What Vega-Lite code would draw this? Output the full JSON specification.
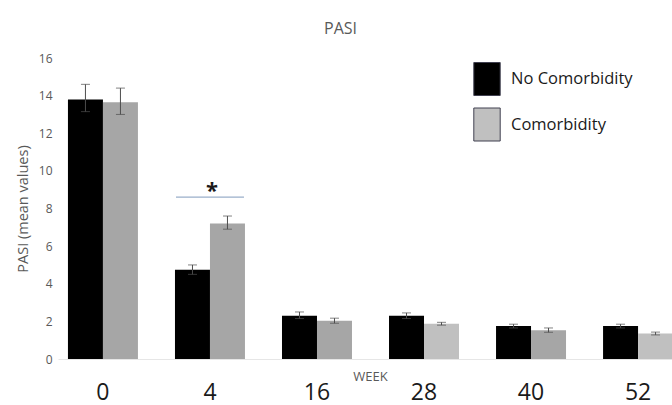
{
  "$schema": "https://vega.github.io/schema/vega-lite/v6.json",
  "autosize": {"type": "none"},
  "padding": {"left": 58, "top": 58, "right": 0, "bottom": 46},
  "width": 625,
  "height": 301,
  "background": "white",
  "title": {"text": "PASI", "anchor": "middle", "dx": -30, "offset": 15, "fontSize": 16, "font": "Open Sans", "fontWeight": "normal", "color": "#595959"},
  "config": {"view": {"stroke": null}, "font": "Open Sans",
    "axisY": {"labelOverlap": false, "grid": false, "domain": false, "ticks": false, "labelFontSize": 12, "labelColor": "#595959", "labelPadding": 6, "titleFontSize": 14.5, "titleFontWeight": "normal", "titleColor": "#595959", "titlePadding": 8}},
  "datasets": {
    "bars": [
      {"week": 0, "group": "No Comorbidity", "mean": 13.8, "lo": 13.15, "hi": 14.6},
      {"week": 0, "group": "Comorbidity", "mean": 13.65, "lo": 13.0, "hi": 14.4},
      {"week": 4, "group": "No Comorbidity", "mean": 4.75, "lo": 4.5, "hi": 5.0},
      {"week": 4, "group": "Comorbidity", "mean": 7.2, "lo": 6.9, "hi": 7.6},
      {"week": 16, "group": "No Comorbidity", "mean": 2.3, "lo": 2.15, "hi": 2.5},
      {"week": 16, "group": "Comorbidity", "mean": 2.03, "lo": 1.9, "hi": 2.17},
      {"week": 28, "group": "No Comorbidity", "mean": 2.3, "lo": 2.15, "hi": 2.45},
      {"week": 28, "group": "Comorbidity", "mean": 1.87, "lo": 1.8, "hi": 1.95},
      {"week": 40, "group": "No Comorbidity", "mean": 1.75, "lo": 1.65, "hi": 1.85},
      {"week": 40, "group": "Comorbidity", "mean": 1.53, "lo": 1.42, "hi": 1.65},
      {"week": 52, "group": "No Comorbidity", "mean": 1.75, "lo": 1.65, "hi": 1.85},
      {"week": 52, "group": "Comorbidity", "mean": 1.35, "lo": 1.28, "hi": 1.43}
    ],
    "sig": [{"week": 4, "line": 8.6, "star": 9.25, "label": "*"}]
  },
  "layer": [
    {
      "data": {"name": "bars"},
      "mark": {"type": "bar"},
      "encoding": {
        "x": {"field": "week", "type": "ordinal", "scale": {"paddingInner": 0.346, "paddingOuter": 0.093},
          "axis": {"title": "WEEK", "titleX": 312, "titleY": 11, "titleFontSize": 13, "titleFontWeight": "normal", "titleColor": "#595959",
            "labelAngle": 0, "labelFontSize": 23, "labelColor": "#1a1a1a", "labelPadding": 22, "ticks": false, "domainColor": "#e6e6e6", "labelFont": "Open Sans"}},
        "xOffset": {"field": "group", "type": "nominal", "sort": ["No Comorbidity", "Comorbidity"], "scale": {"paddingInner": 0}},
        "y": {"field": "mean", "type": "quantitative", "scale": {"domain": [0, 16]},
          "axis": {"title": "PASI (mean values)", "values": [0, 2, 4, 6, 8, 10, 12, 14, 16]}},
        "color": {
          "condition": {"test": "datum.group == 'Comorbidity' && datum.week != 28 && datum.week != 52", "value": "#a6a6a6"},
          "field": "group", "type": "nominal",
          "scale": {"domain": ["No Comorbidity", "Comorbidity"], "range": ["#000000", "#c0c0c0"]},
          "legend": {"title": null, "orient": "none", "legendX": 412, "legendY": 4, "padding": 0,
            "symbolType": "M-0.8,-1H0.8V1H-0.8Z", "symbolSize": 1089, "symbolStrokeColor": "#404050", "symbolStrokeWidth": 1, "symbolOpacity": 1,
            "labelFontSize": 16.5, "labelColor": "#1a1a1a", "labelOffset": 7, "rowPadding": 7.5, "labelFont": "Open Sans",
            "labelExpr": "datum.label == 'Comorbidity' ? ' Comorbidity' : datum.label"}
        }
      }
    },
    {
      "data": {"name": "bars"},
      "mark": {"type": "rule", "color": "#4d4d4d", "strokeWidth": 1},
      "encoding": {
        "x": {"field": "week", "type": "ordinal"},
        "xOffset": {"field": "group", "type": "nominal", "sort": ["No Comorbidity", "Comorbidity"]},
        "y": {"field": "lo", "type": "quantitative", "axis": {"title": "PASI (mean values)", "values": [0, 2, 4, 6, 8, 10, 12, 14, 16]}},
        "y2": {"field": "hi"}
      }
    },
    {
      "data": {"name": "bars"},
      "mark": {"type": "tick", "color": "#4d4d4d", "thickness": 1, "size": 9},
      "encoding": {
        "x": {"field": "week", "type": "ordinal"},
        "xOffset": {"field": "group", "type": "nominal", "sort": ["No Comorbidity", "Comorbidity"]},
        "y": {"field": "lo", "type": "quantitative", "axis": {"title": "PASI (mean values)", "values": [0, 2, 4, 6, 8, 10, 12, 14, 16]}}
      }
    },
    {
      "data": {"name": "bars"},
      "mark": {"type": "tick", "color": "#4d4d4d", "thickness": 1, "size": 9},
      "encoding": {
        "x": {"field": "week", "type": "ordinal"},
        "xOffset": {"field": "group", "type": "nominal", "sort": ["No Comorbidity", "Comorbidity"]},
        "y": {"field": "hi", "type": "quantitative", "axis": {"title": "PASI (mean values)", "values": [0, 2, 4, 6, 8, 10, 12, 14, 16]}}
      }
    },
    {
      "data": {"name": "sig"},
      "mark": {"type": "tick", "color": "#6f8db3", "thickness": 1.2, "size": 68},
      "encoding": {
        "x": {"field": "week", "type": "ordinal"},
        "y": {"field": "line", "type": "quantitative", "axis": {"title": "PASI (mean values)", "values": [0, 2, 4, 6, 8, 10, 12, 14, 16]}}
      }
    },
    {
      "data": {"name": "sig"},
      "mark": {"type": "text", "fontSize": 22, "fontWeight": "bold", "color": "#1a1a1a", "baseline": "middle", "dx": 2, "dy": 6},
      "encoding": {
        "x": {"field": "week", "type": "ordinal"},
        "y": {"field": "star", "type": "quantitative", "axis": {"title": "PASI (mean values)", "values": [0, 2, 4, 6, 8, 10, 12, 14, 16]}},
        "text": {"field": "label"}
      }
    }
  ]
}
